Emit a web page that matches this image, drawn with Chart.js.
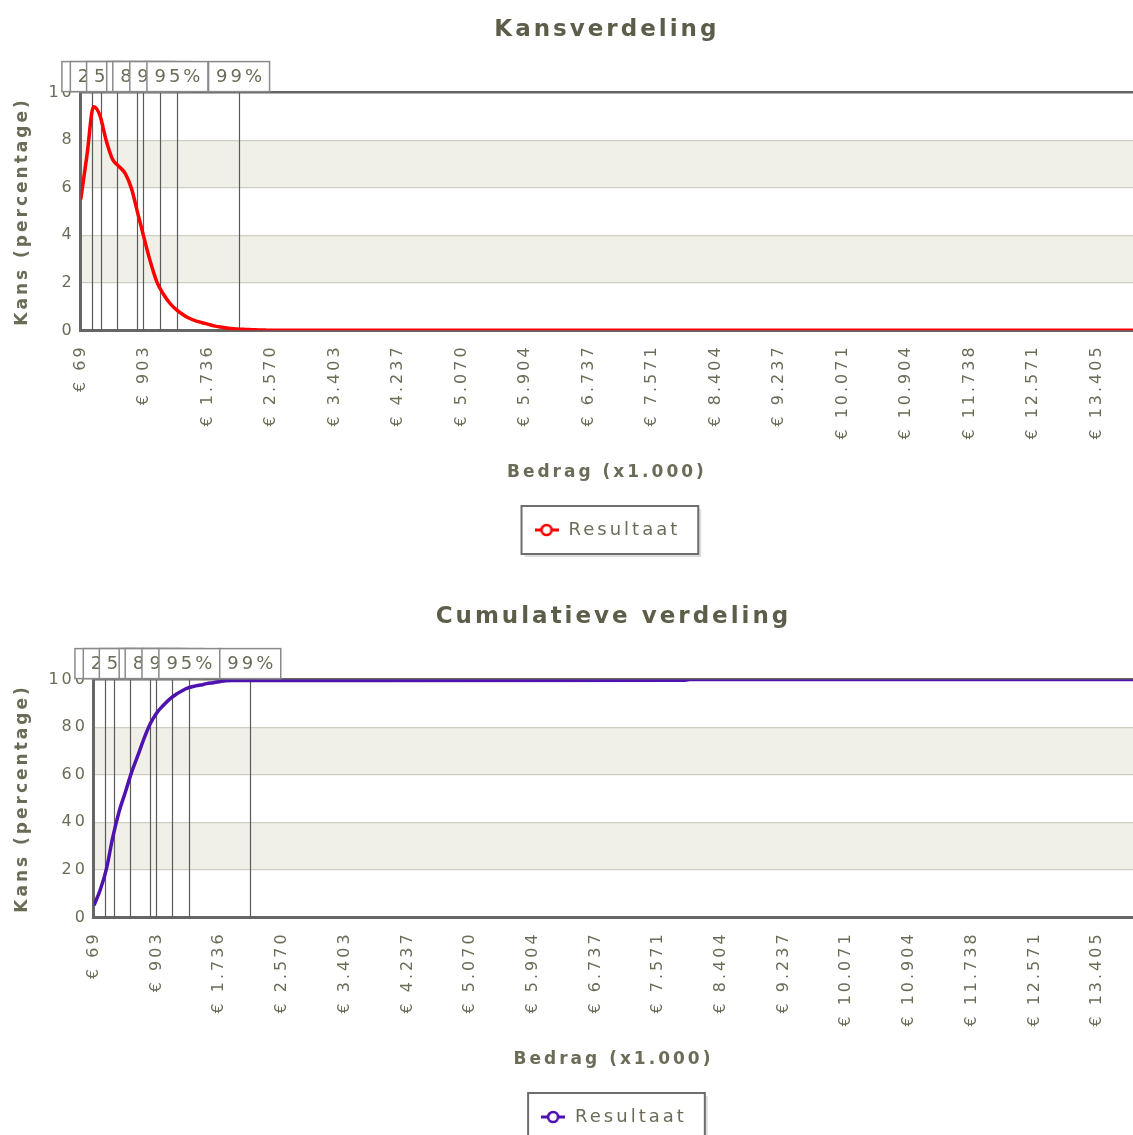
<!DOCTYPE html>
<html><head><meta charset="utf-8">
<script src="https://cdn.jsdelivr.net/npm/chart.js@4.4.1/dist/chart.umd.min.js"></script>
<style>
html,body{margin:0;padding:0;background:#fff;overflow:hidden;}
#wrap{width:1133px;height:1135px;position:relative;overflow:hidden;}
.box{position:absolute;left:0;width:1133px;height:587px;}
</style></head><body>
<div id="wrap">
<div class="box" style="top:0"><canvas id="c1"></canvas></div>
<div class="box" style="top:587px"><canvas id="c2"></canvas></div>
</div>
<script>
// x-axis tick values and labels (Bedrag x1.000)
const tickValues = [69, 903, 1736, 2570, 3403, 4237, 5070, 5904, 6737, 7571, 8404, 9237, 10071, 10904, 11738, 12571, 13405];
const tickLabels = ['€ 69','€ 903','€ 1.736','€ 2.570','€ 3.403','€ 4.237','€ 5.070','€ 5.904','€ 6.737','€ 7.571','€ 8.404','€ 9.237','€ 10.071','€ 10.904','€ 11.738','€ 12.571','€ 13.405'];
const xMin = 69;
const xMax = 13882;

// Kansverdeling (density, %)
const densityAmounts = [69,152,236,319,402,486,569,652,736,819,903,986,1069,1153,1236,1319,1403,1486,1569,1653,1736,1819,1903,1986,2069,2153,2236,2319,2403,2486,2570,13905];
const densityValues  = [5.5,7.4,9.4,9.05,8.0,7.2,6.9,6.6,5.95,4.9,3.85,2.85,2.03,1.53,1.15,0.88,0.68,0.52,0.41,0.33,0.26,0.19,0.14,0.10,0.07,0.05,0.04,0.03,0.02,0.01,0,0];
const densityTicks = [0,2,4,6,8,10];

// Cumulatieve verdeling (%)
const cumulativeAmounts = [69,152,236,319,402,486,569,652,736,819,903,986,1069,1153,1236,1319,1403,1486,1569,1653,1736,1819,1903,1986,2069,2153,2236,2319,2403,2486,2570,7904,7987,13905];
const cumulativeValues  = [5,11.5,20.5,33.6,44.3,52.6,61,68,75.3,81.5,86,89,91.6,93.6,95.2,96.5,97.2,97.7,98.3,98.7,99.1,99.5,99.6,99.6,99.6,99.6,99.6,99.6,99.6,99.6,99.6,99.7,100,100];
const cumulativeTicks = [0,20,40,60,80,100];

// Percentile markers
const percentileLabels = ['10%','25%','50%','75%','80%','90%','95%','99%'];
const percentileAmounts = [222,333,546,810,890,1113,1338,2147];

const TXT = '#6b6b58';
const TITLE = '#5d5d4a';
const FAM = "'DejaVu Sans', Verdana, sans-serif";
const SPACING = '3px';

const spacingPlugin = {
  id: 'spacing',
  beforeUpdate(c){ c.ctx.letterSpacing = SPACING; },
  beforeLayout(c){ c.ctx.letterSpacing = SPACING; },
  beforeDraw(c){ c.ctx.letterSpacing = SPACING; }
};

function legendSymbol(color) {
  const c = document.createElement('canvas');
  c.width = 24; c.height = 14;
  const g = c.getContext('2d');
  g.strokeStyle = color; g.lineWidth = 3;
  g.beginPath(); g.moveTo(0, 7); g.lineTo(7, 7); g.moveTo(17, 7); g.lineTo(24, 7); g.stroke();
  g.beginPath(); g.arc(12, 7, 5, 0, Math.PI * 2);
  g.fillStyle = '#fff'; g.fill(); g.lineWidth = 2.6; g.stroke();
  return c;
}

function decor(ticks) {
  return {
    id: 'decor',
    beforeDraw(chart) {
      const ctx = chart.ctx, a = chart.chartArea, y = chart.scales.y;
      ctx.save();
      ctx.fillStyle = '#f0f0e9';
      for (let k = 1; k + 1 < ticks.length; k += 2) {
        const y1 = y.getPixelForValue(ticks[k]), y2 = y.getPixelForValue(ticks[k+1]);
        ctx.fillRect(a.left, y2, a.right - a.left, y1 - y2);
      }
      // legend frame
      const lg = chart.legend;
      if (lg && lg.legendHitBoxes && lg.legendHitBoxes.length) {
        const hb = lg.legendHitBoxes[0];
        const cy = hb.top + hb.height / 2;
        const L = hb.left - 12, T = cy - 24, W = hb.width + 30, H = 48;
        ctx.fillStyle = 'rgba(0,0,0,0.13)';
        ctx.fillRect(L + 3, T + 3, W, H);
        ctx.fillStyle = '#fff';
        ctx.fillRect(L, T, W, H);
        ctx.strokeStyle = '#6e6e6e';
        ctx.lineWidth = 2;
        ctx.strokeRect(L, T, W, H);
      }
      ctx.restore();
    },
    beforeDatasetsDraw(chart) {
      const ctx = chart.ctx, a = chart.chartArea, x = chart.scales.x;
      ctx.save();
      ctx.strokeStyle = '#5a5a5a';
      ctx.lineWidth = 1.2;
      percentileAmounts.forEach(v => {
        const px = Math.round(x.getPixelForValue(v)) + 0.5;
        ctx.beginPath(); ctx.moveTo(px, a.top); ctx.lineTo(px, a.bottom); ctx.stroke();
      });
      ctx.restore();
    },
    afterDraw(chart) {
      const ctx = chart.ctx, a = chart.chartArea, x = chart.scales.x;
      ctx.save();
      ctx.letterSpacing = SPACING;
      ctx.font = "18px " + FAM;
      ctx.textAlign = 'center';
      ctx.textBaseline = 'middle';
      percentileAmounts.forEach((v, i) => {
        const px = x.getPixelForValue(v);
        const w = ctx.measureText(percentileLabels[i]).width + 12;
        const top = a.top - 31;
        ctx.fillStyle = '#fff';
        ctx.fillRect(px - w/2, top, w, 30);
        ctx.strokeStyle = '#8a8a8a';
        ctx.lineWidth = 1.5;
        ctx.strokeRect(px - w/2, top, w, 30);
        ctx.fillStyle = TXT;
        ctx.fillText(percentileLabels[i], px + 1.5, top + 16);
      });
      ctx.restore();
    }
  };
}

function makeChart(id, title, xs, ys, ticks, color) {
  const yMax = ticks[ticks.length - 1];
  return new Chart(document.getElementById(id), {
    type: 'line',
    data: { datasets: [{
      label: 'Resultaat',
      data: xs.map((v, i) => ({x: v, y: ys[i]})),
      borderColor: color, backgroundColor: '#fff', borderWidth: 3.5,
      pointRadius: 0, pointStyle: legendSymbol(color), fill: false,
      cubicInterpolationMode: 'monotone'
    }]},
    options: {
      responsive: true, maintainAspectRatio: false, animation: false,
      layout: { padding: { left: 8, right: 0, top: 0, bottom: 38 } },
      plugins: {
        title: { display: true, text: title, color: TITLE, fullSize: false,
          font: { family: FAM, size: 23, weight: 'bold' },
          padding: { top: 16, bottom: 49 } },
        legend: { position: 'bottom', fullSize: false,
          labels: { usePointStyle: true, pointStyleWidth: 26, boxHeight: 14, color: TXT, padding: 10,
            font: { family: FAM, size: 18 } } },
        tooltip: { enabled: false }
      },
      scales: {
        x: { type: 'linear', min: xMin, max: xMax,
          afterBuildTicks: s => { s.ticks = tickValues.map(v => ({value: v})); },
          ticks: { callback: (v, i) => tickLabels[i], autoSkip: false, maxRotation: 90, minRotation: 90,
            color: TXT, padding: 14, font: { family: FAM, size: 16 } },
          grid: { display: false, drawTicks: false },
          border: { color: '#666', width: 3 },
          title: { display: true, text: 'Bedrag (x1.000)', color: TXT,
            font: { family: FAM, size: 17, weight: 'bold' }, padding: { top: 9, bottom: 28 } } },
        y: { min: 0, max: yMax,
          afterBuildTicks: s => { s.ticks = ticks.map(v => ({value: v})); },
          ticks: { color: TXT, padding: 6, font: { family: FAM, size: 16 } },
          grid: { drawTicks: false,
            color: c => (c.tick && c.tick.value === yMax) ? '#666' : '#cdcdc4',
            lineWidth: c => (c.tick && c.tick.value === yMax) ? 2.5 : 1.2 },
          border: { color: '#666', width: 3 },
          title: { display: true, text: 'Kans (percentage)', color: TXT,
            font: { family: FAM, size: 17, weight: 'bold' }, padding: { top: 4, bottom: 10 } } }
      }
    },
    plugins: [spacingPlugin, decor(ticks)]
  });
}

makeChart('c1', 'Kansverdeling', densityAmounts, densityValues, densityTicks, '#ff0000');
makeChart('c2', 'Cumulatieve verdeling', cumulativeAmounts, cumulativeValues, cumulativeTicks, '#4e12ae');
</script>
</body></html>
